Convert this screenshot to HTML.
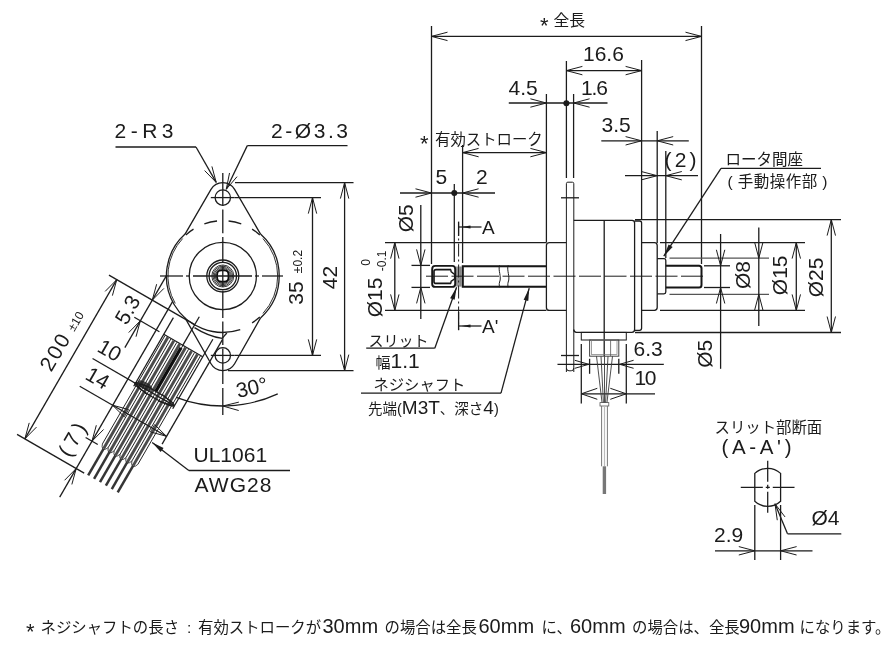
<!DOCTYPE html>
<html><head><meta charset="utf-8"><title>drawing</title>
<style>html,body{margin:0;padding:0;background:#fff;font-family:"Liberation Sans",sans-serif}svg{display:block}svg text{font-family:"Liberation Sans","Noto Sans CJK JP",sans-serif;fill:#1a1a1a}</style>
</head><body>
<svg width="894" height="648" viewBox="0 0 894 648">
<defs><filter id="b" x="0" y="0" width="894" height="648" filterUnits="userSpaceOnUse"><feGaussianBlur stdDeviation="0.38"/></filter></defs>
<rect width="894" height="648" fill="#fff"/>
<g filter="url(#b)">
<path d="M185.06 234.09 L211.00 189.44 A13.60 13.60 0 0 1 234.60 189.44 L260.54 234.09" fill="none" stroke="#1c1c1c" stroke-width="1.28" />
<path d="M260.54 234.09 A56.40 56.40 0 0 1 260.54 317.91" fill="none" stroke="#1c1c1c" stroke-width="1.28" />
<path d="M262.95 238.56 A54.90 54.90 0 0 1 262.95 313.44" fill="none" stroke="#1c1c1c" stroke-width="0.9" />
<path d="M260.54 317.91 L234.60 363.76 A13.60 13.60 0 0 1 211.00 363.76 L185.06 317.91" fill="none" stroke="#1c1c1c" stroke-width="1.28" />
<path d="M185.06 234.09 A56.40 56.40 0 0 0 240.23 329.64" fill="none" stroke="#1c1c1c" stroke-width="1.28" />
<path d="M182.65 238.56 A54.90 54.90 0 0 0 175.26 303.45" fill="none" stroke="#1c1c1c" stroke-width="0.9" />
<circle cx="222.80" cy="197.60" r="7.70" fill="none" stroke="#1c1c1c" stroke-width="1.28"/>
<circle cx="222.80" cy="355.40" r="7.70" fill="none" stroke="#1c1c1c" stroke-width="1.28"/>
<circle cx="222.80" cy="276.00" r="33.60" fill="none" stroke="#1c1c1c" stroke-width="1.28"/>
<circle cx="222.80" cy="276.00" r="16.00" fill="none" stroke="#1c1c1c" stroke-width="1.28"/>
<circle cx="222.80" cy="276.00" r="13.70" fill="none" stroke="#1c1c1c" stroke-width="1.28"/>
<circle cx="222.80" cy="276.00" r="11.00" fill="none" stroke="#222" stroke-width="0.9"/>
<circle cx="222.80" cy="276.00" r="9.80" fill="none" stroke="#222" stroke-width="0.9"/>
<circle cx="222.80" cy="276.00" r="8.60" fill="none" stroke="#222" stroke-width="0.9"/>
<circle cx="222.80" cy="276.00" r="7.50" fill="none" stroke="#222" stroke-width="0.9"/>
<rect x="217.10" y="270.30" width="11.40" height="11.40" rx="4.20" fill="none" stroke="#111" stroke-width="1.9"/>
<path d="M204.34 223.87 A55.30 55.30 0 0 1 217.02 221.00" fill="none" stroke="#1c1c1c" stroke-width="1.28" />
<path d="M228.58 221.00 A55.30 55.30 0 0 1 241.26 223.87" fill="none" stroke="#1c1c1c" stroke-width="1.28" />
<path d="M185.80 234.90 A55.30 55.30 0 0 1 193.50 229.10" fill="none" stroke="#1c1c1c" stroke-width="1.28" />
<path d="M252.10 229.10 A55.30 55.30 0 0 1 259.80 234.90" fill="none" stroke="#1c1c1c" stroke-width="1.28" />
<path d="M259.80 317.10 A55.30 55.30 0 0 1 252.10 322.90" fill="none" stroke="#1c1c1c" stroke-width="1.28" />
<line x1="222.80" y1="173.00" x2="222.80" y2="205.50" stroke="#1c1c1c" stroke-width="1.28"/>
<line x1="222.80" y1="209.50" x2="222.80" y2="233.20" stroke="#1c1c1c" stroke-width="1.28"/>
<line x1="222.80" y1="237.00" x2="222.80" y2="262.00" stroke="#1c1c1c" stroke-width="1.28"/>
<line x1="222.80" y1="265.50" x2="222.80" y2="287.00" stroke="#1c1c1c" stroke-width="1.28"/>
<line x1="222.80" y1="290.50" x2="222.80" y2="318.00" stroke="#1c1c1c" stroke-width="1.28"/>
<line x1="222.80" y1="321.50" x2="222.80" y2="345.00" stroke="#1c1c1c" stroke-width="1.28"/>
<line x1="222.80" y1="348.50" x2="222.80" y2="384.00" stroke="#1c1c1c" stroke-width="1.28"/>
<line x1="222.80" y1="388.00" x2="222.80" y2="415.00" stroke="#1c1c1c" stroke-width="1.28"/>
<line x1="160.00" y1="276.00" x2="183.00" y2="276.00" stroke="#1c1c1c" stroke-width="1.28"/>
<line x1="186.00" y1="276.00" x2="190.00" y2="276.00" stroke="#1c1c1c" stroke-width="1.28"/>
<line x1="193.00" y1="276.00" x2="252.00" y2="276.00" stroke="#1c1c1c" stroke-width="1.28"/>
<line x1="255.00" y1="276.00" x2="259.00" y2="276.00" stroke="#1c1c1c" stroke-width="1.28"/>
<line x1="262.00" y1="276.00" x2="283.00" y2="276.00" stroke="#1c1c1c" stroke-width="1.28"/>
<line x1="210.80" y1="197.60" x2="234.80" y2="197.60" stroke="#1c1c1c" stroke-width="1.28"/>
<line x1="210.80" y1="355.40" x2="234.80" y2="355.40" stroke="#1c1c1c" stroke-width="1.28"/>
<line x1="235.00" y1="197.60" x2="321.00" y2="197.60" stroke="#1c1c1c" stroke-width="1.28"/>
<line x1="235.00" y1="355.40" x2="321.00" y2="355.40" stroke="#1c1c1c" stroke-width="1.28"/>
<line x1="312.50" y1="197.60" x2="312.50" y2="355.40" stroke="#1c1c1c" stroke-width="1.28"/>
<path d="M316.70 213.60 L312.50 197.60 L308.30 213.60" fill="none" stroke="#1c1c1c" stroke-width="1.0" />
<path d="M308.30 339.40 L312.50 355.40 L316.70 339.40" fill="none" stroke="#1c1c1c" stroke-width="1.0" />
<line x1="235.00" y1="182.60" x2="353.50" y2="182.60" stroke="#1c1c1c" stroke-width="1.28"/>
<line x1="228.00" y1="370.60" x2="353.50" y2="370.60" stroke="#1c1c1c" stroke-width="1.28"/>
<line x1="344.60" y1="182.60" x2="344.60" y2="370.60" stroke="#1c1c1c" stroke-width="1.28"/>
<path d="M348.80 198.60 L344.60 182.60 L340.40 198.60" fill="none" stroke="#1c1c1c" stroke-width="1.0" />
<path d="M340.40 354.60 L344.60 370.60 L348.80 354.60" fill="none" stroke="#1c1c1c" stroke-width="1.0" />
<text transform="translate(295.6 293) rotate(-90)" x="0" y="7.85" text-anchor="middle" font-size="21">35</text>
<text transform="translate(297.3 261.5) rotate(-90)" x="0" y="4.3" text-anchor="middle" font-size="12">±0.2</text>
<text transform="translate(329.3 277.6) rotate(-90)" x="0" y="7.85" text-anchor="middle" font-size="21">42</text>
<text x="114.5" y="137.6" font-size="21" textLength="59">2-R3</text>
<line x1="115.50" y1="147.00" x2="196.00" y2="147.00" stroke="#1c1c1c" stroke-width="1.28"/>
<line x1="196.00" y1="147.00" x2="216.20" y2="182.40" stroke="#1c1c1c" stroke-width="1.28"/>
<path d="M204.62 170.58 L216.20 182.40 L211.92 166.42" fill="none" stroke="#1c1c1c" stroke-width="1.0" />
<text x="271" y="137.6" font-size="21" textLength="77">2-Ø3.3</text>
<line x1="247.30" y1="145.60" x2="347.50" y2="145.60" stroke="#1c1c1c" stroke-width="1.28"/>
<line x1="247.30" y1="145.60" x2="226.30" y2="189.20" stroke="#1c1c1c" stroke-width="1.28"/>
<path d="M229.52 172.97 L226.30 189.20 L237.07 176.65" fill="none" stroke="#1c1c1c" stroke-width="1.0" />
<line x1="431.50" y1="26.00" x2="431.50" y2="264.00" stroke="#1c1c1c" stroke-width="1.28"/>
<line x1="701.50" y1="26.00" x2="701.50" y2="264.00" stroke="#1c1c1c" stroke-width="1.28"/>
<line x1="431.50" y1="36.40" x2="701.50" y2="36.40" stroke="#1c1c1c" stroke-width="1.28"/>
<path d="M447.50 32.20 L431.50 36.40 L447.50 40.60" fill="none" stroke="#1c1c1c" stroke-width="1.0" />
<path d="M685.50 40.60 L701.50 36.40 L685.50 32.20" fill="none" stroke="#1c1c1c" stroke-width="1.0" />
<text x="540" y="26.3" font-size="15.8"><tspan font-size="22" dy="6.3">*</tspan><tspan x="553.5" dy="-6.3">全長</tspan></text>
<line x1="566.40" y1="61.00" x2="566.40" y2="178.00" stroke="#1c1c1c" stroke-width="1.28"/>
<line x1="641.60" y1="60.00" x2="641.60" y2="220.00" stroke="#1c1c1c" stroke-width="1.28"/>
<line x1="566.40" y1="70.60" x2="641.60" y2="70.60" stroke="#1c1c1c" stroke-width="1.28"/>
<path d="M582.40 66.40 L566.40 70.60 L582.40 74.80" fill="none" stroke="#1c1c1c" stroke-width="1.0" />
<path d="M625.60 74.80 L641.60 70.60 L625.60 66.40" fill="none" stroke="#1c1c1c" stroke-width="1.0" />
<text x="583" y="61.2" font-size="21">16.6</text>
<line x1="546.40" y1="94.00" x2="546.40" y2="242.50" stroke="#1c1c1c" stroke-width="1.28"/>
<line x1="573.60" y1="94.00" x2="573.60" y2="178.00" stroke="#1c1c1c" stroke-width="1.28"/>
<line x1="508.80" y1="103.00" x2="607.50" y2="103.00" stroke="#1c1c1c" stroke-width="1.28"/>
<path d="M530.40 107.20 L546.40 103.00 L530.40 98.80" fill="none" stroke="#1c1c1c" stroke-width="1.0" />
<path d="M589.60 98.80 L573.60 103.00 L589.60 107.20" fill="none" stroke="#1c1c1c" stroke-width="1.0" />
<circle cx="566.40" cy="103.20" r="3.00" fill="#1c1c1c" stroke="#1c1c1c" stroke-width="0"/>
<text x="508.5" y="95" font-size="21">4.5</text>
<text x="581" y="95" font-size="21" textLength="27">1.6</text>
<line x1="601.30" y1="140.80" x2="688.80" y2="140.80" stroke="#1c1c1c" stroke-width="1.28"/>
<path d="M625.60 145.00 L641.60 140.80 L625.60 136.60" fill="none" stroke="#1c1c1c" stroke-width="1.0" />
<path d="M673.20 136.60 L657.20 140.80 L673.20 145.00" fill="none" stroke="#1c1c1c" stroke-width="1.0" />
<text x="601.5" y="132" font-size="21">3.5</text>
<line x1="657.20" y1="131.00" x2="657.20" y2="243.00" stroke="#1c1c1c" stroke-width="1.28"/>
<line x1="665.80" y1="151.00" x2="665.80" y2="258.00" stroke="#1c1c1c" stroke-width="1.28"/>
<line x1="625.00" y1="175.70" x2="698.00" y2="175.70" stroke="#1c1c1c" stroke-width="1.28"/>
<path d="M641.20 179.90 L657.20 175.70 L641.20 171.50" fill="none" stroke="#1c1c1c" stroke-width="1.0" />
<path d="M681.80 171.50 L665.80 175.70 L681.80 179.90" fill="none" stroke="#1c1c1c" stroke-width="1.0" />
<text x="664.5" y="167.4" font-size="21" textLength="32">(2)</text>
<line x1="462.60" y1="145.00" x2="462.60" y2="263.00" stroke="#1c1c1c" stroke-width="1.28"/>
<line x1="462.60" y1="152.60" x2="546.40" y2="152.60" stroke="#1c1c1c" stroke-width="1.28"/>
<path d="M478.60 148.40 L462.60 152.60 L478.60 156.80" fill="none" stroke="#1c1c1c" stroke-width="1.0" />
<path d="M530.40 156.80 L546.40 152.60 L530.40 148.40" fill="none" stroke="#1c1c1c" stroke-width="1.0" />
<text x="420" y="144.5" font-size="15.4"><tspan font-size="22" dy="6.1">*</tspan><tspan x="435" dy="-6.1">有効ストローク</tspan></text>
<line x1="400.00" y1="193.00" x2="495.00" y2="193.00" stroke="#1c1c1c" stroke-width="1.28"/>
<path d="M415.50 197.20 L431.50 193.00 L415.50 188.80" fill="none" stroke="#1c1c1c" stroke-width="1.0" />
<path d="M478.60 188.80 L462.60 193.00 L478.60 197.20" fill="none" stroke="#1c1c1c" stroke-width="1.0" />
<circle cx="454.30" cy="193.00" r="3.00" fill="#1c1c1c" stroke="#1c1c1c" stroke-width="0"/>
<line x1="454.30" y1="184.00" x2="454.30" y2="262.00" stroke="#1c1c1c" stroke-width="1.28"/>
<text x="435.5" y="184" font-size="21">5</text>
<text x="476" y="184" font-size="21">2</text>
<rect x="432.20" y="265.90" width="23.00" height="21.00" rx="3.00" fill="none" stroke="#151515" stroke-width="1.9"/>
<path d="M451 269.6 L436 269.6 Q434 269.6 434 271.6 L434 281.4 Q434 283.4 436 283.4 L451 283.4" fill="none" stroke="#151515" stroke-width="1.6" />
<path d="M451 269.6 L451 271.6 L454.6 274.4 L454.6 278.8 L451 281.4 L451 283.4" fill="none" stroke="#151515" stroke-width="1.3" />
<line x1="457.00" y1="266.50" x2="457.00" y2="286.60" stroke="#1c1c1c" stroke-width="0.9"/>
<line x1="459.00" y1="266.50" x2="459.00" y2="286.60" stroke="#1c1c1c" stroke-width="0.9"/>
<line x1="460.90" y1="266.50" x2="460.90" y2="286.60" stroke="#1c1c1c" stroke-width="0.9"/>
<path d="M546.4 266.2 L462.8 266.2 L462.8 286.8 L546.4 286.8" fill="none" stroke="#151515" stroke-width="2.0" />
<path d="M499.6 265.2 C497.8 270 501.8 277 499.6 282 C499 284 499.2 286 499.6 287.4" fill="none" stroke="#1c1c1c" stroke-width="1.0" />
<path d="M508.2 265.2 C506.4 270 510.4 277 508.2 282 C507.6 284 507.8 286 508.2 287.4" fill="none" stroke="#1c1c1c" stroke-width="1.0" />
<path d="M566.4 242.6 L549.4 242.6 Q546.4 242.6 546.4 245.6 L546.4 307.4 Q546.4 310.4 549.4 310.4 L566.4 310.4" fill="none" stroke="#1c1c1c" stroke-width="1.28" />
<path d="M566.4 372 L566.4 183.6 Q566.4 182.2 567.8 182.2 L572.4 182.2 Q573.8 182.2 573.8 183.6 L573.8 372" fill="none" stroke="#1c1c1c" stroke-width="1.0" />
<path d="M566.4 368 Q566.4 370.8 569 370.8 L571.2 370.8 Q573.8 370.8 573.8 368" fill="none" stroke="#1c1c1c" stroke-width="1.0" />
<line x1="561.00" y1="197.80" x2="579.00" y2="197.80" stroke="#1c1c1c" stroke-width="1.28"/>
<line x1="561.00" y1="355.50" x2="579.00" y2="355.50" stroke="#1c1c1c" stroke-width="1.28"/>
<path d="M573.8 220.4 L632 220.4 Q634.6 220.4 634.6 223 L634.6 329.6 Q634.6 332.4 632 332.4 L576.5 332.4 Q573.8 332.4 573.8 329.6" fill="none" stroke="#1c1c1c" stroke-width="1.28" />
<line x1="604.20" y1="220.40" x2="604.20" y2="356.00" stroke="#1c1c1c" stroke-width="1.28"/>
<path d="M634.6 221 L639.5 221 Q641.6 221 641.6 223 L641.6 328 Q641.6 330.4 639.5 330.4 L634.6 330.4" fill="none" stroke="#1c1c1c" stroke-width="1.28" />
<path d="M641.6 242.6 L654.4 242.6 Q657.2 242.6 657.2 245.4 L657.2 307.6 Q657.2 310.4 654.4 310.4 L641.6 310.4" fill="none" stroke="#1c1c1c" stroke-width="1.28" />
<path d="M657.2 258.6 L664 258.6 Q665.8 258.6 665.8 260.4 L665.8 292 Q665.8 293.8 664 293.8 L657.2 293.8" fill="none" stroke="#1c1c1c" stroke-width="1.28" />
<path d="M665.8 265.8 L699 265.8 Q701.5 265.8 701.5 268.3 L701.5 285 Q701.5 287.5 699 287.5 L665.8 287.5" fill="none" stroke="#151515" stroke-width="2.0" />
<line x1="426.00" y1="276.20" x2="706.50" y2="276.20" stroke="#1c1c1c" stroke-width="1.0" stroke-dasharray="22 3.5"/>
<line x1="635.00" y1="219.60" x2="841.00" y2="219.60" stroke="#1c1c1c" stroke-width="1.28"/>
<line x1="635.00" y1="332.50" x2="841.00" y2="332.50" stroke="#1c1c1c" stroke-width="1.28"/>
<line x1="831.30" y1="219.60" x2="831.30" y2="332.50" stroke="#1c1c1c" stroke-width="1.28"/>
<path d="M835.50 235.60 L831.30 219.60 L827.10 235.60" fill="none" stroke="#1c1c1c" stroke-width="1.0" />
<path d="M827.10 316.50 L831.30 332.50 L835.50 316.50" fill="none" stroke="#1c1c1c" stroke-width="1.0" />
<line x1="660.00" y1="242.60" x2="805.00" y2="242.60" stroke="#1c1c1c" stroke-width="1.28"/>
<line x1="660.00" y1="310.40" x2="805.00" y2="310.40" stroke="#1c1c1c" stroke-width="1.28"/>
<line x1="796.30" y1="242.60" x2="796.30" y2="310.40" stroke="#1c1c1c" stroke-width="1.28"/>
<path d="M800.50 258.60 L796.30 242.60 L792.10 258.60" fill="none" stroke="#1c1c1c" stroke-width="1.0" />
<path d="M792.10 294.40 L796.30 310.40 L800.50 294.40" fill="none" stroke="#1c1c1c" stroke-width="1.0" />
<line x1="669.50" y1="258.20" x2="769.00" y2="258.20" stroke="#555" stroke-width="1.28"/>
<line x1="669.50" y1="294.30" x2="769.00" y2="294.30" stroke="#555" stroke-width="1.28"/>
<line x1="758.80" y1="227.50" x2="758.80" y2="326.00" stroke="#1c1c1c" stroke-width="1.28"/>
<path d="M754.60 242.20 L758.80 258.20 L763.00 242.20" fill="none" stroke="#1c1c1c" stroke-width="1.0" />
<path d="M763.00 310.30 L758.80 294.30 L754.60 310.30" fill="none" stroke="#1c1c1c" stroke-width="1.0" />
<line x1="704.00" y1="265.80" x2="730.00" y2="265.80" stroke="#1c1c1c" stroke-width="1.28"/>
<line x1="704.00" y1="287.50" x2="730.00" y2="287.50" stroke="#1c1c1c" stroke-width="1.28"/>
<line x1="720.60" y1="234.00" x2="720.60" y2="368.80" stroke="#1c1c1c" stroke-width="1.28"/>
<path d="M716.40 249.80 L720.60 265.80 L724.80 249.80" fill="none" stroke="#1c1c1c" stroke-width="1.0" />
<path d="M724.80 303.50 L720.60 287.50 L716.40 303.50" fill="none" stroke="#1c1c1c" stroke-width="1.0" />
<text transform="translate(742.3 275) rotate(-90)" x="0" y="7.84" text-anchor="middle" font-size="21">Ø8</text>
<text transform="translate(779.3 275.3) rotate(-90)" x="0" y="7.84" text-anchor="middle" font-size="21">Ø15</text>
<text transform="translate(815 277.5) rotate(-90)" x="0" y="7.84" text-anchor="middle" font-size="21">Ø25</text>
<text transform="translate(704.3 353.8) rotate(-90)" x="0" y="7.84" text-anchor="middle" font-size="21">Ø5</text>
<text x="725.5" y="165.2" font-size="15.5">ロータ間座</text>
<line x1="721.00" y1="168.30" x2="821.00" y2="168.30" stroke="#1c1c1c" stroke-width="1.28"/>
<line x1="721.00" y1="168.30" x2="663.80" y2="256.20" stroke="#1c1c1c" stroke-width="1.28"/>
<path d="M663.80 256.20 L668.61 244.41 L672.63 247.03 Z" fill="#1c1c1c"/>
<text x="727.5" y="186.8" font-size="15.5" textLength="100">( 手動操作部 )</text>
<line x1="385.00" y1="242.60" x2="546.40" y2="242.60" stroke="#1c1c1c" stroke-width="1.28"/>
<line x1="385.00" y1="310.40" x2="546.40" y2="310.40" stroke="#1c1c1c" stroke-width="1.28"/>
<line x1="394.80" y1="242.60" x2="394.80" y2="310.40" stroke="#1c1c1c" stroke-width="1.28"/>
<path d="M399.00 258.60 L394.80 242.60 L390.60 258.60" fill="none" stroke="#1c1c1c" stroke-width="1.0" />
<path d="M390.60 294.40 L394.80 310.40 L399.00 294.40" fill="none" stroke="#1c1c1c" stroke-width="1.0" />
<line x1="411.50" y1="265.40" x2="430.00" y2="265.40" stroke="#1c1c1c" stroke-width="1.28"/>
<line x1="411.50" y1="287.40" x2="430.00" y2="287.40" stroke="#1c1c1c" stroke-width="1.28"/>
<line x1="420.80" y1="205.00" x2="420.80" y2="319.00" stroke="#1c1c1c" stroke-width="1.28"/>
<path d="M416.60 249.40 L420.80 265.40 L425.00 249.40" fill="none" stroke="#1c1c1c" stroke-width="1.0" />
<path d="M425.00 303.40 L420.80 287.40 L416.60 303.40" fill="none" stroke="#1c1c1c" stroke-width="1.0" />
<text transform="translate(405 218.3) rotate(-90)" x="0" y="7.84" text-anchor="middle" font-size="21">Ø5</text>
<text transform="translate(374.5 297.5) rotate(-90)" x="0" y="7.84" text-anchor="middle" font-size="21">Ø15</text>
<text transform="translate(365.2 262.5) rotate(-90)" x="0" y="4.3" text-anchor="middle" font-size="12">0</text>
<text transform="translate(381.2 260.8) rotate(-90)" x="0" y="4.3" text-anchor="middle" font-size="12">-0.1</text>
<line x1="458.60" y1="222.50" x2="458.60" y2="330.00" stroke="#1c1c1c" stroke-width="1.0" stroke-dasharray="13 3 2 3"/>
<line x1="458.60" y1="221.60" x2="458.60" y2="236.00" stroke="#1c1c1c" stroke-width="1.3"/>
<line x1="458.60" y1="227.00" x2="481.50" y2="227.00" stroke="#1c1c1c" stroke-width="1.28"/>
<path d="M461.50 227.00 L470.50 225.50 L470.50 228.50 Z" fill="#1c1c1c"/>
<text x="482" y="234.2" font-size="19">A</text>
<line x1="458.60" y1="312.00" x2="458.60" y2="330.20" stroke="#1c1c1c" stroke-width="1.3"/>
<line x1="458.60" y1="326.00" x2="481.50" y2="326.00" stroke="#1c1c1c" stroke-width="1.28"/>
<path d="M461.50 326.00 L470.50 324.50 L470.50 327.50 Z" fill="#1c1c1c"/>
<text x="482" y="333.2" font-size="19">A'</text>
<text x="368.5" y="345.6" font-size="15">スリット</text>
<line x1="366.20" y1="348.20" x2="434.80" y2="348.20" stroke="#1c1c1c" stroke-width="1.28"/>
<line x1="434.80" y1="348.20" x2="456.60" y2="287.20" stroke="#1c1c1c" stroke-width="1.28"/>
<path d="M456.60 287.20 L454.65 299.78 L450.13 298.16 Z" fill="#1c1c1c"/>
<text x="375.5" y="367.8" font-size="15">幅<tspan font-size="21">1.1</tspan></text>
<text x="373.5" y="389.8" font-size="15.3">ネジシャフト</text>
<line x1="361.00" y1="393.10" x2="501.00" y2="393.10" stroke="#1c1c1c" stroke-width="1.28"/>
<line x1="501.00" y1="393.10" x2="529.20" y2="288.20" stroke="#1c1c1c" stroke-width="1.28"/>
<path d="M529.20 288.20 L528.27 300.89 L523.64 299.65 Z" fill="#1c1c1c"/>
<text x="368" y="414" font-size="14.5">先端(<tspan font-size="19">M3T</tspan>、深さ<tspan font-size="19">4</tspan>)</text>
<rect x="581.30" y="332.40" width="45.00" height="7.60" rx="0.00" fill="none" stroke="#1c1c1c" stroke-width="1.0"/>
<rect x="589.60" y="340.00" width="29.20" height="16.20" rx="0.00" fill="none" stroke="#444" stroke-width="1.0"/>
<rect x="591.40" y="340.00" width="25.60" height="14.60" rx="0.00" fill="none" stroke="#777" stroke-width="0.7"/>
<line x1="610.60" y1="340.00" x2="610.60" y2="356.00" stroke="#555" stroke-width="0.8"/>
<line x1="557.50" y1="364.30" x2="663.80" y2="364.30" stroke="#1c1c1c" stroke-width="1.28"/>
<path d="M574.80 368.30 L588.80 364.30 L574.80 360.30" fill="none" stroke="#1c1c1c" stroke-width="1.0" />
<path d="M633.60 360.30 L619.60 364.30 L633.60 368.30" fill="none" stroke="#1c1c1c" stroke-width="1.0" />
<line x1="589.60" y1="358.80" x2="589.60" y2="373.80" stroke="#1c1c1c" stroke-width="1.28"/>
<line x1="618.80" y1="358.80" x2="618.80" y2="373.80" stroke="#1c1c1c" stroke-width="1.28"/>
<text x="633.5" y="355.5" font-size="21">6.3</text>
<line x1="581.30" y1="344.00" x2="581.30" y2="403.50" stroke="#1c1c1c" stroke-width="1.28"/>
<line x1="626.30" y1="344.00" x2="626.30" y2="403.50" stroke="#1c1c1c" stroke-width="1.28"/>
<line x1="581.30" y1="393.80" x2="655.00" y2="393.80" stroke="#1c1c1c" stroke-width="1.28"/>
<path d="M597.30 388.30 L581.30 393.80 L597.30 399.30" fill="none" stroke="#1c1c1c" stroke-width="1.0" />
<path d="M610.30 399.30 L626.30 393.80 L610.30 388.30" fill="none" stroke="#1c1c1c" stroke-width="1.0" />
<text x="634.5" y="385" font-size="21" textLength="22">10</text>
<path d="M596.50 356.2 L602.10 403" fill="none" stroke="#3a3a3a" stroke-width="0.9" />
<path d="M601.00 356.2 L603.45 403" fill="none" stroke="#3a3a3a" stroke-width="0.9" />
<path d="M604.50 356.2 L604.50 403" fill="none" stroke="#3a3a3a" stroke-width="0.9" />
<path d="M608.00 356.2 L605.55 403" fill="none" stroke="#3a3a3a" stroke-width="0.9" />
<path d="M612.50 356.2 L606.90 403" fill="none" stroke="#3a3a3a" stroke-width="0.9" />
<rect x="600.00" y="402.60" width="8.80" height="3.40" rx="0.00" fill="none" stroke="#555" stroke-width="0.8"/>
<line x1="601.60" y1="406.00" x2="601.60" y2="466.30" stroke="#777" stroke-width="1.0"/>
<line x1="607.40" y1="406.00" x2="607.40" y2="466.30" stroke="#777" stroke-width="1.0"/>
<line x1="604.50" y1="406.00" x2="604.50" y2="466.30" stroke="#bbb" stroke-width="1.2"/>
<line x1="604.40" y1="466.30" x2="604.40" y2="494.00" stroke="#777" stroke-width="3.4"/>
<text x="714.5" y="433" font-size="15.4">スリット部断面</text>
<text x="721.5" y="454.4" font-size="20.5" textLength="70">(A-A')</text>
<path d="M754.80 473.35 A19.00 19.00 0 0 1 780.60 473.35 L780.60 501.25 A19.00 19.00 0 0 1 754.80 501.25 Z" fill="none" stroke="#1c1c1c" stroke-width="1.28" />
<line x1="740.80" y1="487.30" x2="794.50" y2="487.30" stroke="#1c1c1c" stroke-width="1.28" stroke-dasharray="22 3 4 3"/>
<line x1="767.70" y1="460.80" x2="767.70" y2="513.80" stroke="#1c1c1c" stroke-width="1.28" stroke-dasharray="21 3 4 3"/>
<line x1="754.80" y1="505.00" x2="754.80" y2="560.00" stroke="#1c1c1c" stroke-width="1.28"/>
<line x1="780.60" y1="505.00" x2="780.60" y2="560.00" stroke="#1c1c1c" stroke-width="1.28"/>
<line x1="715.00" y1="550.80" x2="812.50" y2="550.80" stroke="#1c1c1c" stroke-width="1.28"/>
<path d="M738.80 555.00 L754.80 550.80 L738.80 546.60" fill="none" stroke="#1c1c1c" stroke-width="1.0" />
<path d="M796.60 546.60 L780.60 550.80 L796.60 555.00" fill="none" stroke="#1c1c1c" stroke-width="1.0" />
<text x="714" y="542" font-size="21">2.9</text>
<text x="811.5" y="525.4" font-size="21">Ø4</text>
<line x1="787.50" y1="533.80" x2="841.30" y2="533.80" stroke="#1c1c1c" stroke-width="1.28"/>
<line x1="787.50" y1="533.80" x2="775.00" y2="503.80" stroke="#1c1c1c" stroke-width="1.28"/>
<path d="M785.03 516.95 L775.00 503.80 L777.28 520.18" fill="none" stroke="#1c1c1c" stroke-width="1.0" />
<line x1="108.96" y1="275.17" x2="194.70" y2="324.67" stroke="#1c1c1c" stroke-width="1.28"/>
<line x1="134.30" y1="317.28" x2="159.42" y2="331.78" stroke="#1c1c1c" stroke-width="1.28"/>
<line x1="166.86" y1="274.88" x2="124.86" y2="347.63" stroke="#1c1c1c" stroke-width="1.28"/>
<path d="M156.63 284.21 L152.26 300.17 L163.90 288.41" fill="none" stroke="#1c1c1c" stroke-width="1.0" />
<path d="M136.00 336.74 L140.36 320.78 L128.73 332.54" fill="none" stroke="#1c1c1c" stroke-width="1.0" />
<line x1="116.76" y1="279.67" x2="24.86" y2="438.85" stroke="#1c1c1c" stroke-width="1.28"/>
<path d="M112.40 295.63 L116.76 279.67 L105.12 291.43" fill="none" stroke="#1c1c1c" stroke-width="1.0" />
<path d="M29.22 422.89 L24.86 438.85 L36.50 427.09" fill="none" stroke="#1c1c1c" stroke-width="1.0" />
<line x1="17.06" y1="434.35" x2="84.18" y2="473.10" stroke="#1c1c1c" stroke-width="1.28"/>
<line x1="172.71" y1="301.35" x2="59.71" y2="497.07" stroke="#1c1c1c" stroke-width="1.28"/>
<path d="M96.33 425.26 L91.96 441.22 L103.60 429.46" fill="none" stroke="#1c1c1c" stroke-width="1.0" />
<line x1="85.64" y1="437.57" x2="97.77" y2="444.57" stroke="#1c1c1c" stroke-width="1.28"/>
<path d="M71.85 484.45 L76.21 468.50 L64.58 480.25" fill="none" stroke="#1c1c1c" stroke-width="1.0" />
<line x1="222.58" y1="339.38" x2="162.08" y2="444.17" stroke="#1c1c1c" stroke-width="1.28"/>
<line x1="173.40" y1="317.57" x2="133.75" y2="386.24" stroke="#1c1c1c" stroke-width="1.28"/>
<line x1="212.87" y1="339.20" x2="172.72" y2="408.74" stroke="#1c1c1c" stroke-width="1.28"/>
<line x1="163.75" y1="334.28" x2="202.72" y2="356.78" stroke="#1c1c1c" stroke-width="1.28"/>
<line x1="199.30" y1="316.70" x2="182.30" y2="346.15" stroke="#1c1c1c" stroke-width="1.28"/>
<path d="M194.5 327.6 Q208 336.2 222.2 338.4" fill="none" stroke="#1c1c1c" stroke-width="1.28" />
<line x1="226.80" y1="333.00" x2="222.20" y2="338.40" stroke="#1c1c1c" stroke-width="1.28"/>
<line x1="167.91" y1="337.27" x2="103.66" y2="448.55" stroke="#4c4c4c" stroke-width="2.9"/>
<line x1="103.66" y1="448.55" x2="88.16" y2="475.40" stroke="#363636" stroke-width="2.5"/>
<line x1="173.82" y1="340.68" x2="109.57" y2="451.96" stroke="#4c4c4c" stroke-width="2.9"/>
<line x1="109.57" y1="451.96" x2="94.07" y2="478.81" stroke="#363636" stroke-width="2.5"/>
<line x1="179.73" y1="344.09" x2="115.48" y2="455.37" stroke="#4c4c4c" stroke-width="2.9"/>
<line x1="115.48" y1="455.37" x2="99.98" y2="482.22" stroke="#363636" stroke-width="2.5"/>
<line x1="185.63" y1="347.50" x2="121.38" y2="458.78" stroke="#4c4c4c" stroke-width="2.9"/>
<line x1="121.38" y1="458.78" x2="105.88" y2="485.63" stroke="#363636" stroke-width="2.5"/>
<line x1="191.54" y1="350.91" x2="127.29" y2="462.19" stroke="#4c4c4c" stroke-width="2.9"/>
<line x1="127.29" y1="462.19" x2="111.79" y2="489.04" stroke="#363636" stroke-width="2.5"/>
<line x1="197.45" y1="354.32" x2="133.20" y2="465.60" stroke="#4c4c4c" stroke-width="2.9"/>
<line x1="133.20" y1="465.60" x2="117.70" y2="492.45" stroke="#363636" stroke-width="2.5"/>
<line x1="164.96" y1="335.56" x2="102.41" y2="443.90" stroke="#222" stroke-width="1.0"/>
<line x1="170.87" y1="338.97" x2="108.32" y2="447.31" stroke="#222" stroke-width="1.0"/>
<line x1="176.77" y1="342.38" x2="114.22" y2="450.72" stroke="#222" stroke-width="1.0"/>
<line x1="182.68" y1="345.79" x2="120.13" y2="454.13" stroke="#222" stroke-width="1.0"/>
<line x1="188.59" y1="349.20" x2="126.04" y2="457.54" stroke="#222" stroke-width="1.0"/>
<line x1="194.49" y1="352.61" x2="131.94" y2="460.95" stroke="#222" stroke-width="1.0"/>
<line x1="200.40" y1="356.02" x2="137.85" y2="464.36" stroke="#222" stroke-width="1.0"/>
<path d="M102.41 443.90 Q101.43 446.80 103.06 449.59 Q106.30 449.61 108.32 447.31" fill="none" stroke="#333" stroke-width="0.9" />
<path d="M108.32 447.31 Q107.34 450.21 108.97 453.00 Q112.20 453.02 114.22 450.72" fill="none" stroke="#333" stroke-width="0.9" />
<path d="M114.22 450.72 Q113.24 453.62 114.88 456.41 Q118.11 456.43 120.13 454.13" fill="none" stroke="#333" stroke-width="0.9" />
<path d="M120.13 454.13 Q119.15 457.03 120.78 459.82 Q124.02 459.84 126.04 457.54" fill="none" stroke="#333" stroke-width="0.9" />
<path d="M126.04 457.54 Q125.06 460.44 126.69 463.23 Q129.92 463.25 131.94 460.95" fill="none" stroke="#333" stroke-width="0.9" />
<path d="M131.94 460.95 Q130.96 463.85 132.60 466.64 Q135.83 466.66 137.85 464.36" fill="none" stroke="#333" stroke-width="0.9" />
<line x1="181.04" y1="347.73" x2="155.54" y2="391.90" stroke="#111" stroke-width="3.2"/>
<ellipse cx="154.50" cy="394.30" rx="22.6" ry="3.3" transform="rotate(30 154.50 394.30)" fill="none" stroke="#1c1c1c" stroke-width="1.2"/>
<ellipse cx="145.07" cy="385.62" rx="8.5" ry="3.6" transform="rotate(30 145.07 385.62)" fill="#222" fill-opacity="0.8" stroke="none"/>
<line x1="92.58" y1="358.55" x2="174.07" y2="405.60" stroke="#1c1c1c" stroke-width="1.28"/>
<path d="M150.88 387.36 L134.93 383.00 L146.68 394.64" fill="none" stroke="#1c1c1c" stroke-width="1.0" />
<path d="M158.12 401.24 L174.07 405.60 L162.32 393.96" fill="none" stroke="#1c1c1c" stroke-width="1.0" />
<line x1="79.72" y1="386.23" x2="166.41" y2="436.28" stroke="#1c1c1c" stroke-width="1.28"/>
<path d="M128.50 409.54 L112.54 405.18 L124.30 416.81" fill="none" stroke="#1c1c1c" stroke-width="1.0" />
<path d="M150.45 431.91 L166.41 436.28 L154.65 424.64" fill="none" stroke="#1c1c1c" stroke-width="1.0" />
<line x1="128.50" y1="409.54" x2="124.30" y2="416.81" stroke="#1c1c1c" stroke-width="0.9"/>
<line x1="154.65" y1="424.64" x2="150.45" y2="431.91" stroke="#1c1c1c" stroke-width="0.9"/>
<text transform="translate(54.3 352) rotate(-60)" x="0" y="7.82" text-anchor="middle" font-size="21" textLength="39">200</text>
<text transform="translate(75.6 321.2) rotate(-60)" x="0" y="4.3" text-anchor="middle" font-size="12">±10</text>
<text transform="translate(127 309.4) rotate(-60)" x="0" y="7.85" text-anchor="middle" font-size="21">5.3</text>
<text transform="translate(109.9 349.7) rotate(30)" x="0" y="7.82" text-anchor="middle" font-size="21">10</text>
<text transform="translate(98 377.5) rotate(30)" x="0" y="7.85" text-anchor="middle" font-size="21">14</text>
<text transform="translate(71.9 439.4) rotate(-60)" x="0" y="7.6" text-anchor="middle" font-size="21" textLength="35">(7)</text>
<path d="M277.74 393.82 A130.00 130.00 0 0 1 176.21 397.37" fill="none" stroke="#1c1c1c" stroke-width="1.28" />
<path d="M238.88 402.12 L222.80 406.00 L238.71 410.52" fill="none" stroke="#1c1c1c" stroke-width="1.0" />
<text transform="translate(251.5 386.5) rotate(-13)" x="0" y="8.19" text-anchor="middle" font-size="21">30°</text>
<text x="193.5" y="462.4" font-size="21">UL1061</text>
<text x="194.5" y="492" font-size="21" textLength="77">AWG28</text>
<line x1="188.80" y1="470.50" x2="290.00" y2="470.50" stroke="#1c1c1c" stroke-width="1.28"/>
<line x1="188.80" y1="470.50" x2="152.20" y2="442.40" stroke="#1c1c1c" stroke-width="1.28"/>
<path d="M152.20 442.40 L163.58 448.11 L160.65 451.92 Z" fill="#1c1c1c"/>
<text x="26" y="632.6" font-size="15.4"><tspan font-size="22" dy="6.6">*</tspan><tspan x="40.5" dy="-6.6">ネジシャフトの長さ</tspan><tspan x="187">:</tspan><tspan x="198">有効ストロークが</tspan><tspan x="322.5" font-size="20">30mm</tspan><tspan x="384.5">の場合は全長</tspan><tspan x="478.5" font-size="20">60mm</tspan><tspan x="541.5">に、</tspan><tspan x="570" font-size="20">60mm</tspan><tspan x="632">の場合は、全長</tspan><tspan x="739" font-size="20">90mm</tspan><tspan x="799.5">になります。</tspan></text>
</g>
</svg>
</body></html>
